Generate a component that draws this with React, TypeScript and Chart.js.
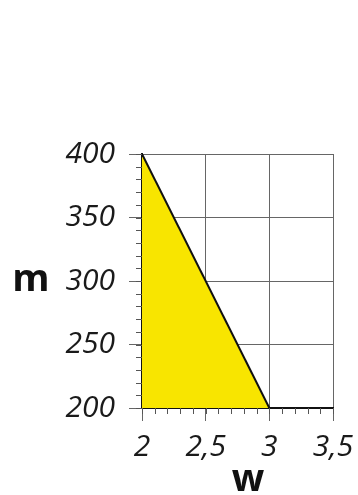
import React, { useEffect, useRef } from "react";
import { Chart, registerables } from "chart.js";

Chart.register(...registerables);

const lineX: number[] = [2, 3];
const lineY: number[] = [400, 200];
const xTicks: number[] = [2, 2.5, 3, 3.5];
const yTicks: number[] = [200, 250, 300, 350, 400];
const xMinorStep = 0.1;
const yMinorStep = 10;
const xTitle = "w";
const yTitle = "m";

const minorAndTitles = {
  id: "minorAndTitles",
  afterDraw(chart: any) {
    const ctx = chart.ctx;
    const xs = chart.scales.x;
    const ys = chart.scales.y;
    const area = chart.chartArea;
    ctx.save();
    ctx.strokeStyle = "#555";
    ctx.lineWidth = 1;
    for (let v = ys.min; v <= ys.max + 1e-9; v += yMinorStep) {
      const py = Math.round(ys.getPixelForValue(v)) + 0.5;
      ctx.beginPath();
      ctx.moveTo(area.left - 6, py);
      ctx.lineTo(area.left, py);
      ctx.stroke();
    }
    for (let v = xs.min; v <= xs.max + 1e-9; v += xMinorStep) {
      const px = Math.round(xs.getPixelForValue(v)) + 0.5;
      ctx.beginPath();
      ctx.moveTo(px, area.bottom);
      ctx.lineTo(px, area.bottom + 6);
      ctx.stroke();
    }
    ctx.fillStyle = "#111";
    ctx.textAlign = "center";
    ctx.textBaseline = "alphabetic";
    ctx.font = "bold 38px 'Open Sans'";
    ctx.fillText(yTitle, 31, 291);
    ctx.fillText(xTitle, 248, 491);
    ctx.restore();
  },
};

export default function App() {
  const ref = useRef<HTMLCanvasElement | null>(null);
  useEffect(() => {
    if (!ref.current) return;
    const chart = new Chart(ref.current, {
      type: "line",
      data: {
        datasets: [
          {
            data: lineX.map((x, i) => ({ x, y: lineY[i] })),
            borderColor: "#111",
            borderWidth: 2,
            backgroundColor: "#F8E500",
            fill: "start",
            pointRadius: 0,
            tension: 0,
          },
        ],
      },
      options: {
        animation: false,
        responsive: false,
        maintainAspectRatio: false,
        layout: { padding: { left: 0, right: 25, top: 154, bottom: 0 } },
        plugins: { legend: { display: false }, tooltip: { enabled: false } },
        scales: {
          x: {
            type: "linear",
            min: 2,
            max: 3.5,
            z: 1,
            afterBuildTicks: (s: any) => {
              s.ticks = xTicks.map((v) => ({ value: v }));
            },
            afterFit: (s: any) => {
              s.height = 87;
              s.paddingLeft = 0;
              s.paddingRight = 0;
            },
            ticks: {
              font: { family: "'Open Sans'", style: "italic", size: 30 },
              color: "#1a1a1a",
              padding: 8,
              maxRotation: 0,
              callback: (v: any) => String(v).replace(".", ","),
            },
            grid: { color: "#666", lineWidth: 1, tickLength: 13, tickColor: "#666" },
            border: { color: "#111", width: 2 },
          },
          y: {
            type: "linear",
            min: 200,
            max: 400,
            z: 1,
            afterBuildTicks: (s: any) => {
              s.ticks = yTicks.map((v) => ({ value: v }));
            },
            afterFit: (s: any) => {
              s.width = 142;
              s.paddingTop = 0;
              s.paddingBottom = 0;
            },
            ticks: {
              font: { family: "'Open Sans'", style: "italic", size: 30 },
              color: "#1a1a1a",
              padding: 14,
              callback: (v: any) => String(v),
            },
            grid: { color: "#666", lineWidth: 1, tickLength: 13, tickColor: "#666" },
            border: { color: "#111", width: 2 },
          },
        },
      },
      plugins: [minorAndTitles],
    });
    return () => chart.destroy();
  }, []);
  return (
    <div style={{ position: "fixed", left: 0, top: 0, width: 358, height: 495, background: "#fff" }}>
      <canvas ref={ref} width={358} height={495} style={{ width: 358, height: 495 }} />
    </div>
  );
}
